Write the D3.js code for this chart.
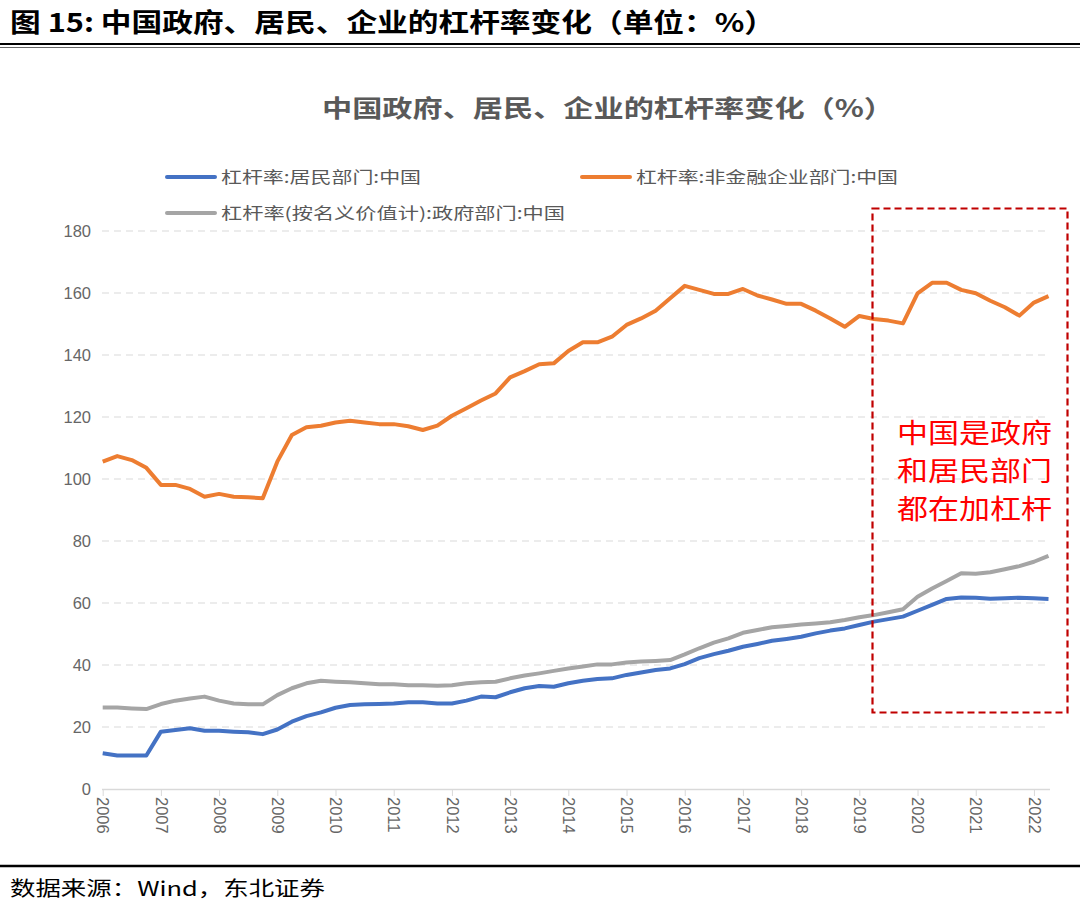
<!DOCTYPE html>
<html>
<head>
<meta charset="utf-8">
<script src="https://cdn.jsdelivr.net/npm/d3@7"></script>
<style>
  html, body { margin: 0; padding: 0; background: #fff; }
  svg { display: block; }
</style>
</head>
<body>
<svg id="chart" width="1080" height="908"></svg>
<script>
// ---- data (quarterly, 2006Q1 – 2022Q2) ----
const years = ["2006","2007","2008","2009","2010","2011","2012","2013","2014","2015","2016","2017","2018","2019","2020","2021","2022"];
const yTicks = [0, 20, 40, 60, 80, 100, 120, 140, 160, 180];
const seriesNames = ["杠杆率:居民部门:中国", "杠杆率:非金融企业部门:中国", "杠杆率(按名义价值计):政府部门:中国"];
const household = [11.5,10.8,10.8,10.8,18.5,19.0,19.6,18.8,18.8,18.5,18.3,17.7,19.2,21.7,23.5,24.7,26.2,27.1,27.3,27.4,27.6,28.0,28.0,27.6,27.6,28.5,29.8,29.6,31.2,32.5,33.2,33.0,34.1,34.9,35.5,35.7,36.8,37.6,38.4,38.9,40.3,42.2,43.5,44.6,45.9,46.8,47.8,48.4,49.1,50.2,51.1,51.8,52.9,54.0,54.8,55.6,57.5,59.4,61.3,61.8,61.7,61.4,61.5,61.7,61.5,61.3];
const corporate = [105.6,107.4,106.1,103.6,98.1,98.1,96.8,94.3,95.2,94.3,94.1,93.8,105.6,114.2,116.7,117.2,118.2,118.8,118.2,117.7,117.7,117.0,115.8,117.2,120.4,122.8,125.3,127.6,132.8,134.8,137.0,137.3,141.3,144.1,144.1,145.9,149.7,151.8,154.3,158.3,162.3,161.0,159.7,159.7,161.3,159.2,157.9,156.5,156.5,154.3,151.8,149.1,152.6,151.6,151.1,150.2,159.9,163.3,163.3,161.0,159.9,157.5,155.4,152.7,156.9,159.0];
const government = [26.3,26.3,26.0,25.8,27.4,28.5,29.2,29.8,28.5,27.6,27.3,27.3,30.3,32.5,34.1,34.9,34.6,34.4,34.1,33.8,33.8,33.5,33.5,33.3,33.5,34.1,34.4,34.6,35.7,36.6,37.3,38.1,38.9,39.5,40.2,40.2,40.8,41.1,41.3,41.6,43.4,45.4,47.2,48.6,50.4,51.3,52.2,52.6,53.1,53.4,53.8,54.5,55.4,56.1,57.0,58.0,62.0,64.7,67.1,69.6,69.4,69.9,70.9,71.9,73.3,75.2];
const annotationLines = ["中国是政府", "和居民部门", "都在加杠杆"];

// ---- drawing ----
const svg = d3.select("#chart");
const FONT = "'Noto Sans CJK SC', 'Noto Sans', sans-serif";
const colors = ["#4472C4", "#ED7D31", "#A5A5A5"];

const x = d3.scaleLinear().domain([0, household.length - 1]).range([102.7, 1048.5]);
const y = d3.scaleLinear().domain([0, 180]).range([789, 231]);

// header
svg.append("text").attr("x", 10).attr("y", 32)
  .attr("font-family", FONT).attr("font-weight", 700).attr("font-size", 26).attr("fill", "#000")
  .attr("textLength", 765).attr("lengthAdjust", "spacingAndGlyphs")
  .text("图 15: 中国政府、居民、企业的杠杆率变化（单位：%）");
svg.append("line").attr("x1", 0).attr("x2", 1080).attr("y1", 44).attr("y2", 44).attr("stroke", "#000").attr("stroke-width", 2);
svg.append("line").attr("x1", 0).attr("x2", 1080).attr("y1", 47.5).attr("y2", 47.5).attr("stroke", "#666").attr("stroke-width", 1);

// chart title
svg.append("text").attr("x", 322).attr("y", 117)
  .attr("font-family", FONT).attr("font-weight", 700).attr("font-size", 24).attr("fill", "#595959")
  .attr("textLength", 572).attr("lengthAdjust", "spacingAndGlyphs")
  .text("中国政府、居民、企业的杠杆率变化（%）");

// legend
const legendPos = [[167, 177], [582, 177], [167, 213]];
const legendLen = [200, 262, 344];
seriesNames.forEach((name, i) => {
  const [lx, ly] = legendPos[i];
  svg.append("line").attr("x1", lx).attr("x2", lx + 48).attr("y1", ly).attr("y2", ly)
    .attr("stroke", colors[i]).attr("stroke-width", 4).attr("stroke-linecap", "round");
  svg.append("text").attr("x", lx + 54).attr("y", ly + 6)
    .attr("font-family", FONT).attr("font-size", 16).attr("fill", "#595959")
    .attr("textLength", legendLen[i]).attr("lengthAdjust", "spacingAndGlyphs")
    .text(name);
});

// gridlines
svg.append("g").selectAll("line").data(yTicks.filter(d => d > 0)).join("line")
  .attr("x1", 102).attr("x2", 1050)
  .attr("y1", d => y(d)).attr("y2", d => y(d))
  .attr("stroke", "#d9d9d9").attr("stroke-width", 1.2).attr("stroke-dasharray", "7,5");

// y axis
const yAxis = svg.append("g").attr("transform", "translate(91,0)")
  .call(d3.axisLeft(y).tickValues(yTicks).tickSize(0).tickPadding(0));
yAxis.select(".domain").remove();
yAxis.selectAll("text").attr("font-family", "'Liberation Sans', Arial, sans-serif")
  .attr("font-size", 16.5).attr("fill", "#666");

// x axis
const xAxis = svg.append("g").attr("transform", `translate(0,${y(0)})`)
  .call(d3.axisBottom(x).tickValues(years.map((d, i) => i * 4)).tickFormat((d) => years[d / 4]).tickSize(7).tickSizeOuter(0));
xAxis.select(".domain").attr("d", "M102,0.5H1050").attr("stroke", "#d9d9d9").attr("stroke-width", 1.5);
xAxis.selectAll(".tick line").attr("stroke", "#d9d9d9");
xAxis.selectAll("text")
  .attr("font-family", "'Liberation Sans', Arial, sans-serif").attr("font-size", 16.5).attr("fill", "#666")
  .attr("text-anchor", "start").attr("dy", "0.35em")
  .attr("transform", "translate(0,8) rotate(90)").attr("x", 0).attr("y", 0);

// lines
const line = d3.line().x((d, i) => x(i)).y(d => y(d)).curve(d3.curveLinear);
[household, corporate, government].forEach((s, i) => {
  svg.append("path").datum(s).attr("d", line)
    .attr("fill", "none").attr("stroke", colors[i]).attr("stroke-width", 4)
    .attr("stroke-linejoin", "round").attr("stroke-linecap", "butt");
});

// red annotation box
svg.append("rect").attr("x", 872.5).attr("y", 208.5).attr("width", 195).attr("height", 504)
  .attr("fill", "none").attr("stroke", "#C00000").attr("stroke-width", 2.2).attr("stroke-dasharray", "7,4");
annotationLines.forEach((t, i) => {
  svg.append("text").attr("x", 897).attr("y", 443 + i * 38)
    .attr("font-family", FONT).attr("font-size", 27).attr("fill", "#FF0000")
    .attr("textLength", 155).attr("lengthAdjust", "spacingAndGlyphs")
    .text(t);
});

// footer
svg.append("line").attr("x1", 0).attr("x2", 1080).attr("y1", 866).attr("y2", 866).attr("stroke", "#000").attr("stroke-width", 2.5);
svg.append("text").attr("x", 10).attr("y", 896)
  .attr("font-family", FONT).attr("font-size", 20).attr("fill", "#000")
  .attr("textLength", 315).attr("lengthAdjust", "spacingAndGlyphs")
  .text("数据来源：Wind，东北证券");
</script>
</body>
</html>
